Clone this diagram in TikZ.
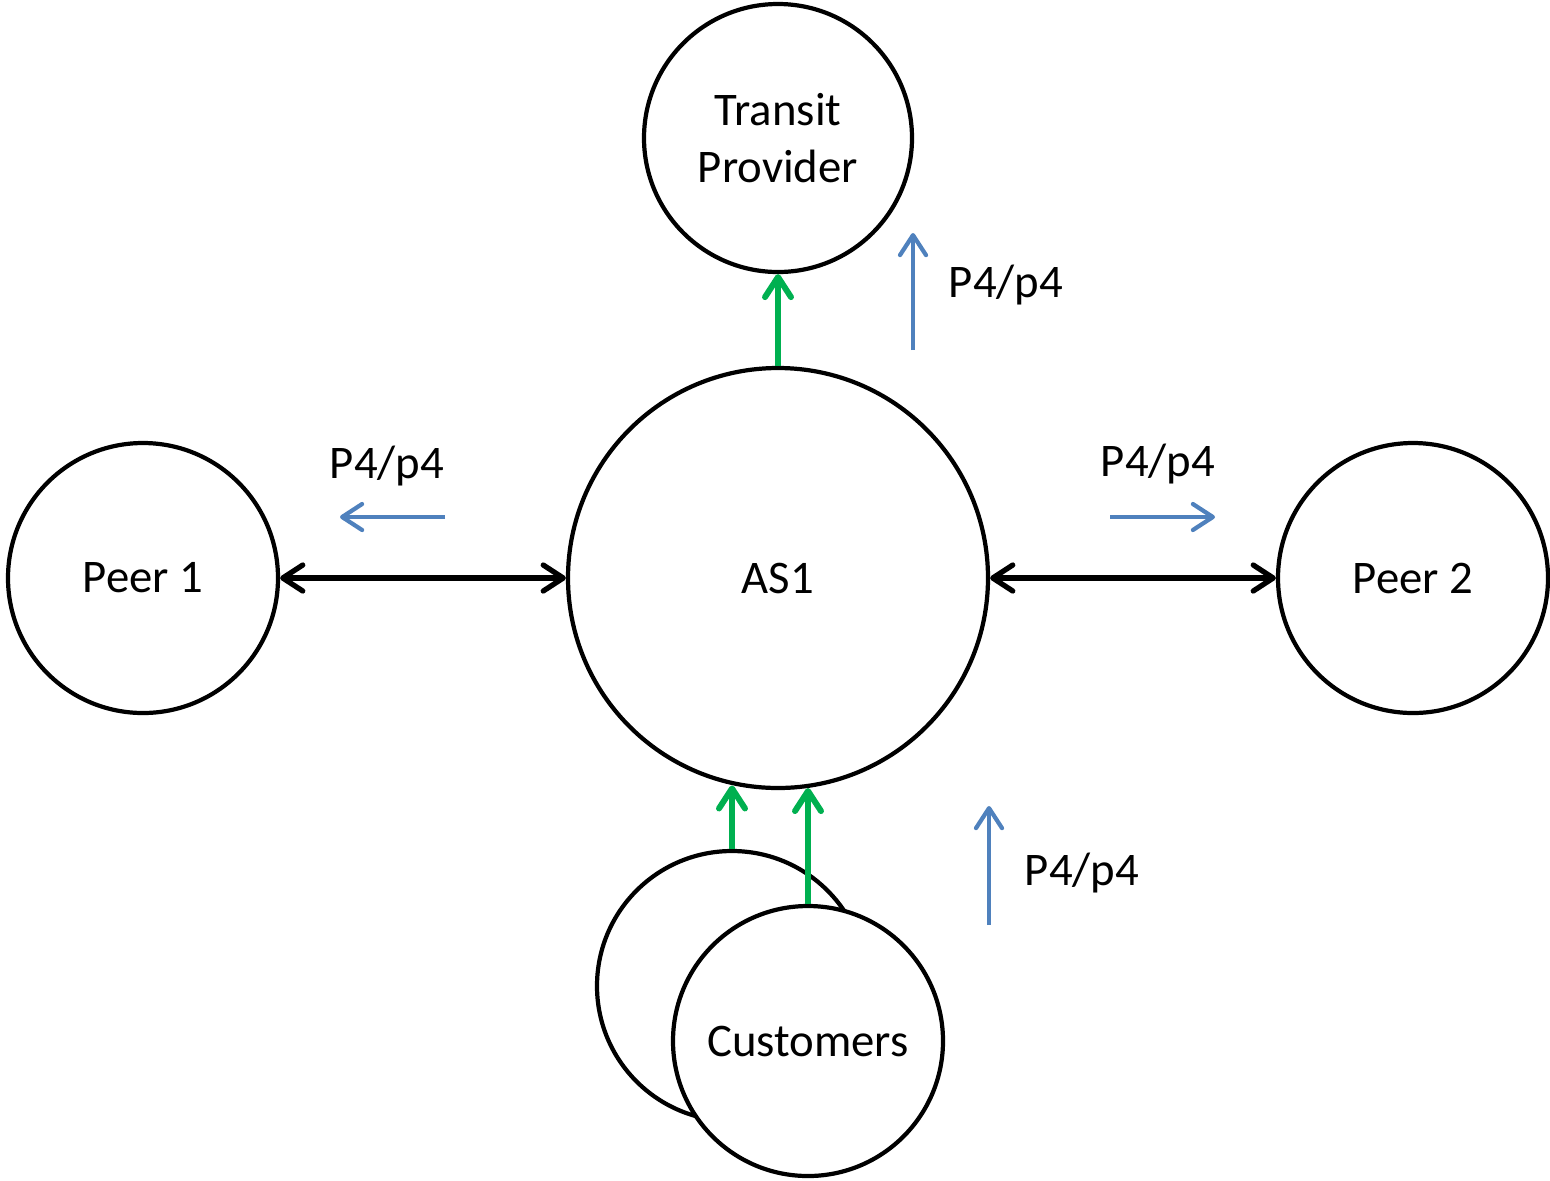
\documentclass[tikz,border=0pt]{standalone}
\usepackage{fontspec}
\setmainfont{Carlito}
\usetikzlibrary{arrows.meta}
\definecolor{asgreen}{RGB}{0,176,80}
\definecolor{asblue}{RGB}{79,129,189}

\begin{document}
\begin{tikzpicture}[line width=1.2pt,
    font=\fontsize{13.3}{16}\selectfont,
    as/.style={circle,draw=black,fill=white,inner sep=0pt,align=center},
    link/.style={line width=1.5pt,{Straight Barb[length=2mm,width=2.6mm,round]}-{Straight Barb[length=2mm,width=2.6mm,round]}},
    uplink/.style={asgreen,line width=1.7pt,-{Straight Barb[length=2mm,width=2.6mm,round]}},
    flow/.style={asblue,line width=1.2pt,-{Straight Barb[length=2mm,width=2.6mm,round]}}]
            \useasboundingbox (0,0) rectangle (15.5,-11.8);
            \draw (7.78,-1.38) node[as,minimum size=2.68cm] (transit) {Transit\\Provider};
            \draw (7.78,-5.78) node[as,minimum size=4.2cm] (as1) {AS1};
            \draw (1.43,-5.78) node[as,minimum size=2.7cm] (peer1) {Peer 1};
            \draw (14.13,-5.78) node[as,minimum size=2.7cm] (peer2) {Peer 2};
            \draw (7.32,-9.86) node[as,minimum size=2.7cm] (cust1) {};
            \draw (8.08,-10.41) node[as,minimum size=2.7cm] (cust2) {Customers};
            % links between the ASes
            \draw[link] (peer1) -- (as1);
            \draw[link] (as1) -- (peer2);
            \draw[uplink] (as1) -- (transit);
            \draw[uplink] (cust1.north) -- (cust1.north |- as1.-102);
            \draw[uplink] (cust2.north) -- (cust2.north |- as1.-82);
            % announcements
            \coordinate (t1) at (9.13,-3.50);
            \coordinate (t2) at (9.13,-2.33);
            \coordinate (l1) at (4.45,-5.17);
            \coordinate (l2) at (3.40,-5.17);
            \coordinate (r1) at (11.10,-5.17);
            \coordinate (r2) at (12.15,-5.17);
            \coordinate (c1) at (9.89,-9.25);
            \coordinate (c2) at (9.89,-8.06);
            \draw[flow] (t1) -- (t2);
            \draw[flow] (l1) -- (l2);
            \draw[flow] (r1) -- (r2);
            \draw[flow] (c1) -- (c2);
            \node (tlabel) at (10.06,-2.85) {P4/p4};
            \node (llabel) at (3.87,-4.66) {P4/p4};
            \node (rlabel) at (11.58,-4.64) {P4/p4};
            \node (clabel) at (10.82,-8.73) {P4/p4};
        \end{tikzpicture}
\end{document}
